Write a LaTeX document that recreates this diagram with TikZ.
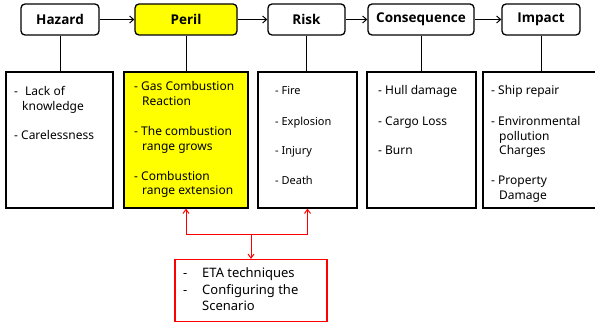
\documentclass[tikz,border=0pt]{standalone}
\usepackage{fontspec}
\setmainfont{Noto Sans}
\newfontfamily\titlefont{Open Sans}
\usetikzlibrary{arrows.meta}
\tikzset{
  topbox/.style={draw=black, line width=1.3pt, rounded corners=4pt, minimum height=31pt, inner sep=0pt, font=\titlefont\fontsize{13.5}{15}\selectfont\bfseries},
  lowbox/.style={draw=black, line width=1.3pt, minimum height=136pt, inner sep=0pt},
  txt/.style={anchor=base west, inner sep=0pt, font=\fontsize{12}{14}\selectfont},
  rtxt/.style={anchor=base west, inner sep=0pt, font=\fontsize{11}{13}\selectfont},
  etxt/.style={anchor=base west, inner sep=0pt, font=\fontsize{13}{15}\selectfont},
  flow/.style={draw=black, line width=1pt, -{Straight Barb[length=4pt,width=7pt]}},
  link/.style={draw=black, line width=1pt},
  redarr/.style={draw=red, line width=1pt, -{Straight Barb[length=4pt,width=6pt]}},
}
\definecolor{peril}{RGB}{255,255,0}
\begin{document}
\begin{tikzpicture}[x=1pt,y=-1pt]
\useasboundingbox (0,0) rectangle (595,323);
% top boxes
\node[topbox, minimum width=78pt] (hazT) at (60,19.5) {Hazard};
\node[topbox, minimum width=102pt, fill=peril] (perT) at (186,19.5) {Peril};
\node[topbox, minimum width=77pt] (riskT) at (306.5,19.5) {Risk};
\node[topbox, minimum width=106pt] (conT) at (421,19.5) {Consequence};
\node[topbox, minimum width=78pt] (impT) at (541,19.5) {Impact};
% lower boxes
\node[lowbox, minimum width=107pt] (hazL) at (59.5,140) {};
\node[lowbox, minimum width=124pt, fill=peril] (perL) at (186,140) {};
\node[lowbox, minimum width=99pt] (riskL) at (307.5,140) {};
\node[lowbox, minimum width=109pt] (conL) at (421.5,140) {};
\node[lowbox, minimum width=118pt] (impL) at (542,140) {};
% flow arrows
\draw[flow] (hazT) -- (perT);
\draw[flow] (perT) -- (riskT);
\draw[flow] (riskT) -- (conT);
\draw[flow] (conT) -- (impT);
% vertical links
\draw[link] (hazT.south) -- (hazT.south |- hazL.north);
\draw[link] (perT.south) -- (perT.south |- perL.north);
\draw[link] (riskT.south) -- (riskT.south |- riskL.north);
\draw[link] (conT.south) -- (conT.south |- conL.north);
\draw[link] (impT.south) -- (impT.south |- impL.north);
% hazard text
\node[txt] (h1) at (14,96) {-};
\node[txt] (h1b) at (25,96) {Lack of};
\node[txt] (h2) at (22,111) {knowledge};
\node[txt] (h3) at (14,140) {- Carelessness};
% peril text
\node[txt] (p1) at (134,91) {- Gas Combustion};
\node[txt] (p2) at (142,106) {Reaction};
\node[txt] (p3) at (134,136) {- The combustion};
\node[txt] (p4) at (142,151) {range grows};
\node[txt] (p5) at (134,181) {- Combustion};
\node[txt] (p6) at (142,195) {range extension};
% risk text
\node[rtxt] (r1) at (275,95) {- Fire};
\node[rtxt] (r2) at (275,126) {- Explosion};
\node[rtxt] (r3) at (275,155) {- Injury};
\node[rtxt] (r4) at (275,185) {- Death};
% consequence text
\node[txt] (c1) at (378,95) {- Hull damage};
\node[txt] (c2) at (378,126) {- Cargo Loss};
\node[txt] (c3) at (378,155) {- Burn};
% impact text
\node[txt] (i1) at (491,95) {- Ship repair};
\node[txt] (i2) at (491,126) {- Environmental};
\node[txt] (i3) at (499,141) {pollution};
\node[txt] (i4) at (499,155) {Charges};
\node[txt] (i5) at (491,185) {- Property};
\node[txt] (i6) at (499,200) {Damage};
% red box
\node[draw=red, line width=1.2pt, minimum width=152pt, minimum height=62pt, inner sep=0pt] (eta) at (251,290.5) {};
\node[etxt] (e1) at (183,278) {-};
\node[etxt] (e1b) at (202,278) {ETA techniques};
\node[etxt] (e2) at (183,295) {-};
\node[etxt] (e2b) at (202,295) {Configuring the};
\node[etxt] (e3) at (202,311) {Scenario};
% red connectors
\coordinate (j) at (251,235);
\draw[redarr] (j) -| (perL.south);
\draw[redarr] (j) -| (riskL.south);
\draw[redarr] (j) -- (eta.north);
\end{tikzpicture}
\end{document}
